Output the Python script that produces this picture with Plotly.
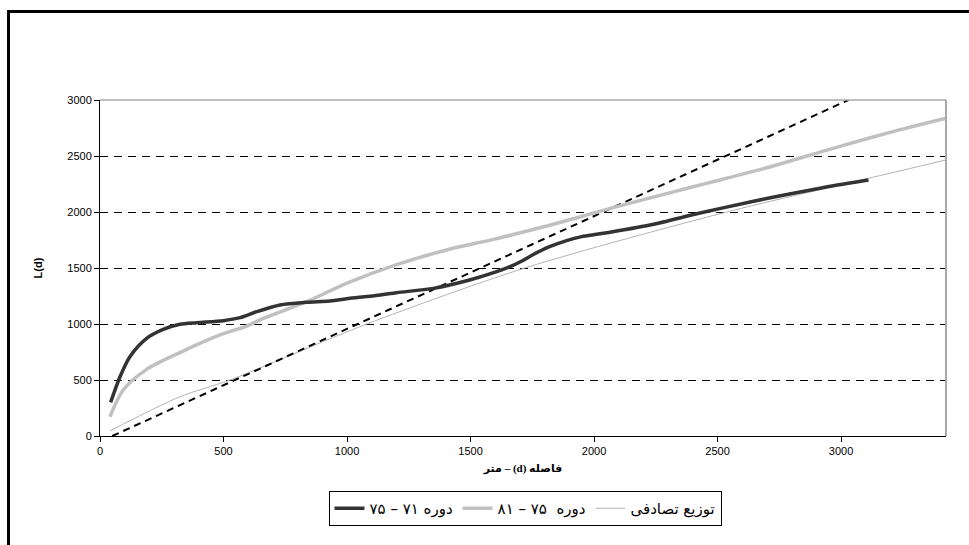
import plotly.graph_objects as go

# L(d) for period 71-75
d_7175 = [43, 81, 121, 189, 256, 324, 391, 499, 567, 634, 729, 837, 931, 1012, 1134,
          1201, 1350, 1500, 1606, 1660, 1710, 1754, 1820, 1889, 1950, 2024, 2227, 2429,
          2632, 2699, 2834, 2969, 3111]
L_7175 = [300, 529, 708, 872, 952, 997, 1012, 1030, 1057, 1110, 1170, 1194, 1205, 1229, 1259,
          1280, 1318, 1395, 1467, 1512, 1565, 1620, 1690, 1745, 1780, 1805, 1884, 1991,
          2090, 2120, 2179, 2235, 2286]

# L(d) for period 75-81
d_7581 = [40, 94, 189, 324, 486, 594, 661, 837, 1000, 1201, 1403, 1593, 1800, 2092, 2429,
          2699, 3009, 3239, 3425]
L_7581 = [172, 411, 595, 745, 902, 982, 1050, 1199, 1365, 1530, 1661, 1756, 1870, 2048, 2241,
          2395, 2595, 2735, 2838]

# Expected L(d) under random distribution
d_rand = [40, 324, 526, 1080, 1720, 2537, 3000, 3425]
L_rand = [45, 351, 500, 1000, 1500, 2000, 2243, 2464]

# Dashed reference line
d_ref = [50, 3030]
L_ref = [0, 3000]

x_ticks = [0, 500, 1000, 1500, 2000, 2500, 3000]
y_ticks = [0, 500, 1000, 1500, 2000, 2500, 3000]

name_7175 = "دوره ۷۱ – ۷۵"
name_7581 = "دوره  ۷۵ – ۸۱"
name_rand = "توزیع تصادفی"
# the SVG title is laid out right-to-left, so the parts are given in that order
x_title = "متر – (d) فاصله"

fig = go.Figure()
fig.add_trace(go.Scatter(x=d_rand, y=L_rand, mode="lines", name=name_rand, legendrank=3,
                         line=dict(color="#b4b4b4", width=1, shape="spline", smoothing=0.8)))
fig.add_trace(go.Scatter(x=d_ref, y=L_ref, mode="lines", showlegend=False,
                         line=dict(color="#000000", width=2, dash="7px,5px")))
fig.add_trace(go.Scatter(x=d_7581, y=L_7581, mode="lines", name=name_7581, legendrank=2,
                         line=dict(color="#c0c0c0", width=3.5, shape="spline", smoothing=0.8)))
fig.add_trace(go.Scatter(x=d_7175, y=L_7175, mode="lines", name=name_7175, legendrank=1,
                         line=dict(color="#333333", width=3.5, shape="spline", smoothing=0.8)))

W, H = 969, 545
ml, mr, mt, mb = 100, 23, 100, 109
pw, ph = W - ml - mr, H - mt - mb

def px_x(p):
    return (p - ml) / pw

def px_y(p):
    return 1 - (p - mt) / ph

tick_font = dict(family="Liberation Sans, Arial, sans-serif", size=11, color="#000000")

fig.update_layout(
    width=W, height=H,
    margin=dict(l=ml, r=mr, t=mt, b=mb, autoexpand=False),
    paper_bgcolor="white", plot_bgcolor="white",
    showlegend=True,
    legend=dict(orientation="h", x=px_x(525), xanchor="center", y=px_y(491), yanchor="top",
                bgcolor="white", bordercolor="#000000", borderwidth=1,
                font=dict(family="DejaVu Sans, sans-serif", size=15, color="#000000"),
                itemwidth=30, traceorder="normal"),
    xaxis=dict(range=[0, 3425], tickvals=x_ticks, ticktext=[str(v) for v in x_ticks],
               showgrid=False, zeroline=False, showline=True, linecolor="#000000", linewidth=1,
               ticks="outside", ticklen=5, tickcolor="#000000", tickfont=tick_font,
               title=dict(text=x_title, standoff=8,
                          font=dict(family="Liberation Serif, DejaVu Sans, serif", size=11,
                                    color="#000000", weight="bold"))),
    yaxis=dict(range=[0, 3000], tickvals=y_ticks, ticktext=[str(v) for v in y_ticks],
               showgrid=True, gridcolor="#000000", gridwidth=1, griddash="8px,6px",
               zeroline=False, showline=True, linecolor="#000000", linewidth=1,
               ticks="outside", ticklen=5, tickcolor="#000000", tickfont=tick_font,
               title=dict(text="L(d)", standoff=22,
                          font=dict(family="Liberation Sans, Arial, sans-serif", size=11,
                                    color="#000000", weight="bold"))),
    shapes=[
        # gray top and right edges of the plot area
        dict(type="line", xref="paper", yref="paper", x0=0, x1=1, y0=1, y1=1,
             line=dict(color="#a8a8a8", width=1.5), layer="above"),
        dict(type="line", xref="paper", yref="paper", x0=1, x1=1, y0=0, y1=1,
             line=dict(color="#a8a8a8", width=2), layer="above"),
        # outer chart frame
        dict(type="rect", xref="paper", yref="paper",
             x0=px_x(8.5), x1=px_x(W + 20), y0=px_y(H + 20), y1=px_y(11.5),
             line=dict(color="#000000", width=3), fillcolor="rgba(0,0,0,0)", layer="above"),
    ],
)

fig.write_html("out.html")
